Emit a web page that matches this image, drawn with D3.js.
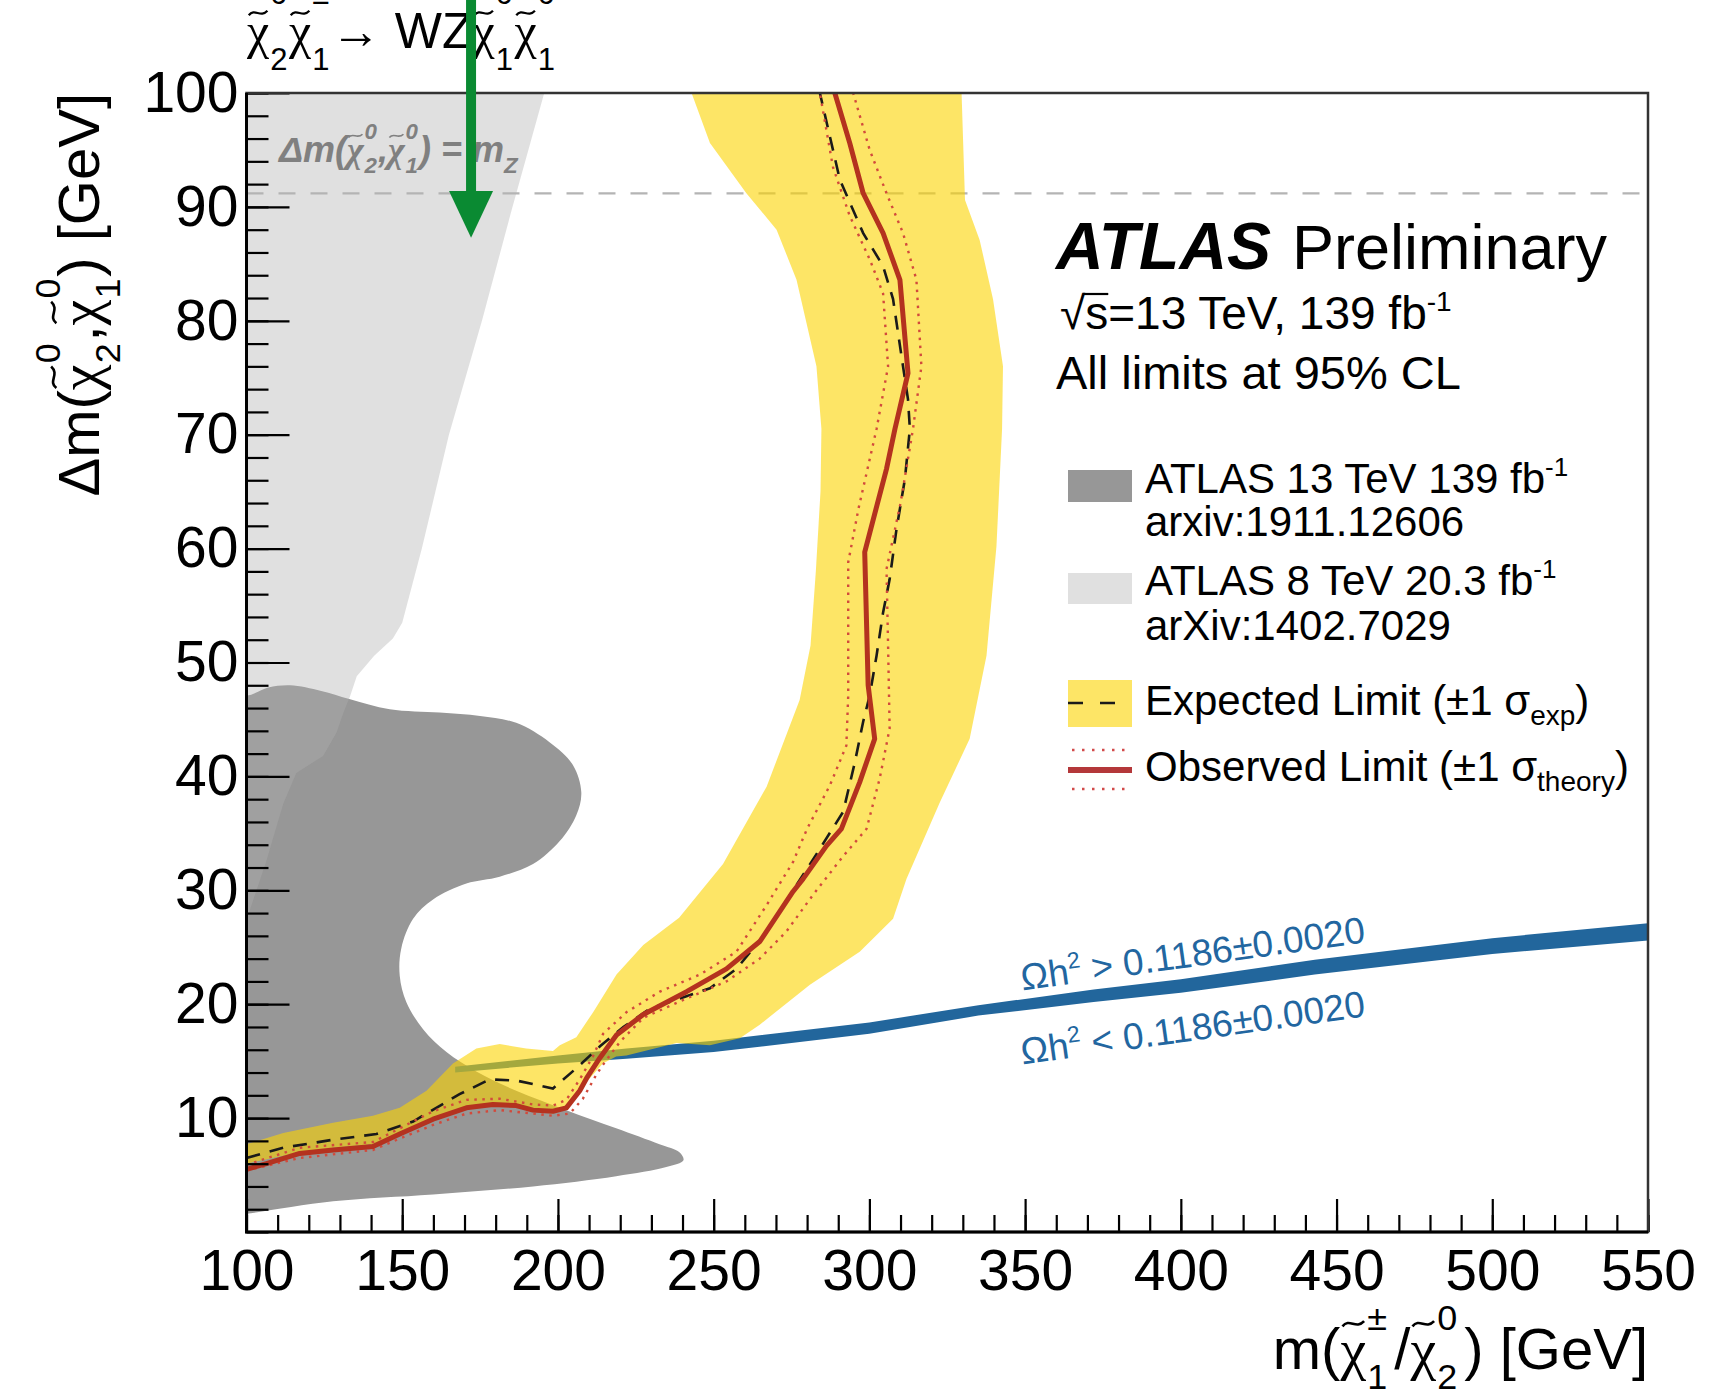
<!DOCTYPE html>
<html>
<head>
<meta charset="utf-8">
<script src="https://cdn.jsdelivr.net/npm/d3@7"></script>
<style>
  html, body { margin: 0; padding: 0; background: #fff; }
  svg { display: block; font-family: "Liberation Sans", Arial, Helvetica, sans-serif; }
</style>
</head>
<body>
<svg id="chart" width="1717" height="1396"></svg>
<script>
// ---- values (x = m(chi1+-/chi2_0), y = delta m, both GeV) ----
const xTickValues = [100, 150, 200, 250, 300, 350, 400, 450, 500, 550]
const yTickValues = [10, 20, 30, 40, 50, 60, 70, 80, 90, 100]
const mZ = 91.19

// ATLAS 13 TeV 139 fb-1 excluded region (arxiv:1911.12606)
const atlas13 = [
  [94, 47.6], [100, 47.1], [107, 47.8], [114, 48.0], [124, 47.5], [133, 46.8], [146, 45.9],
  [162, 45.6], [175, 45.3], [186.6, 44.7], [197.3, 43.0], [204.8, 41.0], [207.5, 38.6],
  [205.9, 36.6], [200.5, 34.3], [192, 32.3], [181.3, 31.2], [170.6, 30.6], [159.9, 29.2],
  [153.5, 27.5], [149.7, 24.9], [149.2, 22.5], [151.3, 20.2], [156.7, 17.8], [164.2, 15.8],
  [173.8, 14.1], [186.6, 12.4], [202.7, 10.7], [218.7, 9.1], [232.6, 7.7], [239, 7.0],
  [240.3, 6.3], [234.8, 5.7], [218.7, 4.9], [192, 4.0], [159.9, 3.3], [127.8, 2.7],
  [100, 1.6], [94, 1.4]
]

// ATLAS 8 TeV 20.3 fb-1 excluded region (arXiv:1402.7029)
const atlas8 = [
  [94, 102], [197, 102], [195.6, 100], [185.4, 90], [175.6, 80], [165, 70], [156.3, 60],
  [150, 53.5], [147, 52.1], [141, 50.6], [135.4, 48.8], [133.2, 47], [131, 45.5],
  [129, 43.9], [124.6, 41.8], [116, 40.3], [111.8, 37.6], [106.4, 32.6], [101, 28.2],
  [100, 27.5], [94, 26]
]

// expected +-1 sigma band: upper/left edge, then lower/right edge
const bandUpper = [
  [96, 7.5], [100, 7.7], [111.8, 8.7], [127.8, 9.6], [140.6, 10.2], [149.2, 10.9],
  [157.8, 12.4], [166.3, 14.8], [173.8, 16.1], [181.3, 16.5], [189.8, 16.1], [198.4, 15.9],
  [200.6, 16.4], [205.9, 17.1], [211.3, 19.3], [218.8, 22.6], [227.4, 25.2], [238.9, 27.6],
  [253, 32.3], [267, 39.1], [277.6, 46.7], [281.1, 51.5], [282.8, 58], [284.3, 65],
  [284.6, 70.5], [283, 76], [276.6, 83.6], [270.2, 88], [260.5, 91.2],
  [248.8, 95.6], [242.9, 100], [242.5, 102]
]
const bandLower = [
  [330, 102], [329.6, 100], [330.7, 90.6], [335.4, 87.1], [339.7, 81.9], [342.9, 76],
  [342.6, 70.5], [340.8, 60.2], [337.6, 50.6], [332.2, 43.3], [322.6, 37.7], [311.9, 31],
  [307.6, 27.5], [296.9, 24.6], [280.9, 21.7], [264.8, 18.2], [258.4, 17], [248.8, 16.4],
  [238.1, 16.6], [222, 15.5], [218.7, 15.4], [214.4, 14.8], [208, 12.8], [202.7, 11.1],
  [198.4, 10.4], [192, 10.6], [186.6, 11.1], [175.9, 11.2], [166.3, 10.7], [157.8, 9.7],
  [149.2, 8.7], [140.6, 7.7], [127.8, 7.4], [111.8, 6.7], [100, 6.0], [96, 5.9]
]

const expected = [
  [100, 6.5], [111.8, 7.4], [127.8, 8.1], [141.7, 8.6], [153.5, 9.7], [168.4, 12.1],
  [178.1, 13.4], [186.6, 13.3], [198.4, 12.6], [206, 14.4], [213.5, 16.3], [221, 18],
  [229.5, 19.6], [238.1, 20.4], [248.8, 21.4], [257.3, 23.1], [266, 26], [276, 30.2],
  [284, 33.6], [291.6, 36.9], [295.3, 41.2], [298, 44.8], [300.1, 47.1], [302.3, 50.6],
  [304.4, 54.4], [306.5, 57.3], [308.7, 61.7], [311.4, 66.1], [313, 70.5], [312.4, 73.1],
  [310.8, 76], [307.6, 81.9], [304.4, 84.8], [298, 87.7], [290.5, 92.4], [284.1, 100]
]

const observed = [
  [100, 5.5], [106.4, 6.0], [117.1, 6.9], [127.8, 7.2], [140.6, 7.5], [149.2, 8.6],
  [159.9, 9.9], [170.6, 10.9], [179.1, 11.2], [186.6, 11.1], [192, 10.7], [198.4, 10.6],
  [202.7, 10.9], [207, 12.4], [209.2, 13.5], [213.5, 15.3], [218.8, 17.3], [227.4, 19.1],
  [241.3, 21.1], [254.1, 23.1], [264.8, 25.5], [275.5, 29.9], [278.7, 31], [286.2, 33.9],
  [291, 35.4], [296.9, 39.5], [301.7, 43.3], [299.6, 48], [298.5, 59.7], [305.5, 67],
  [308.2, 70.5], [312.4, 75.4], [309.8, 83.6], [304.4, 87.7], [298, 91.2], [293.7, 95.6],
  [288.9, 100]
]

const theoryUp = [
  [100, 5.9], [117.1, 7.4], [140.6, 7.9], [149.2, 9.1], [159.9, 10.6], [170.6, 11.6],
  [181.3, 11.7], [192, 11.2], [198.4, 11.1], [202.7, 11.6], [207, 13.4], [211.2, 15.4],
  [214.5, 17.4], [222, 19.3], [232.7, 21.1], [245.6, 22.6], [257.3, 24.6], [267, 28.7],
  [275.5, 32.5], [280, 35.4], [287.3, 39.2], [292.6, 42.7], [293.2, 47.1], [293.2, 58.8],
  [296.5, 63.5], [302.3, 70.5], [306, 76], [304.4, 82.4], [300.1, 85.4], [293.7, 89.2],
  [288.3, 93.5], [284.1, 100]
]

const theoryDown = [
  [100, 5.4], [117.1, 6.5], [140.6, 7.2], [149.2, 8.2], [159.9, 9.4], [170.6, 10.4],
  [181.3, 10.7], [192, 10.4], [198.4, 10.2], [203.8, 10.4], [208, 11.7], [212.3, 13.8],
  [214.5, 14.7], [219.9, 16.7], [227.4, 18.8], [241.3, 20.5], [254.1, 22], [264.8, 24],
  [273.4, 26.4], [281.9, 29.6], [291.6, 33], [299.1, 35.4], [303.3, 39.8], [306.5, 44.2],
  [306, 51.5], [305.5, 58.2], [310, 64], [314, 70.5], [316.7, 76], [315.1, 83.6],
  [310.8, 87.7], [305.5, 91.2], [300.1, 95], [294.8, 100]
]

// relic density band, Omega h^2 = 0.1186 +- 0.0020
const relicX = [167, 200, 222, 250, 300, 335, 372, 400, 443, 500, 550]
const relicLo = [14.0, 14.8, 15.2, 15.8, 17.4, 19.0, 20.2, 21.0, 22.6, 24.4, 25.6]
const relicHi = [14.5, 15.5, 16.1, 16.8, 18.4, 19.9, 21.3, 22.2, 23.9, 25.8, 27.1]

// ---- drawing ----
const W = 1717
const H = 1396
const frame = { left: 246.5, right: 1648, top: 93, bottom: 1232 }

const x = d3.scaleLinear().domain([100, 550]).range([frame.left, frame.right])
const y = d3.scaleLinear().domain([0, 100]).range([frame.bottom, frame.top])

const svg = d3.select('#chart')
svg.append('rect').attr('width', W).attr('height', H).attr('fill', '#fff')

svg.append('defs').append('clipPath').attr('id', 'plot')
  .append('rect')
  .attr('x', frame.left).attr('y', frame.top)
  .attr('width', frame.right - frame.left).attr('height', frame.bottom - frame.top)

const plot = svg.append('g').attr('clip-path', 'url(#plot)')

const line = d3.line().x(d => x(d[0])).y(d => y(d[1]))

plot.append('path')
  .attr('d', line.curve(d3.curveCatmullRomClosed.alpha(0.5))(atlas13))
  .attr('fill', '#979797')

plot.append('path')
  .attr('d', line.curve(d3.curveLinearClosed)(atlas8))
  .attr('fill', '#aeaeae')
  .attr('fill-opacity', 0.385)

const relic = relicX.map((v, i) => ({ x: v, lo: relicLo[i], hi: relicHi[i] }))
plot.append('path')
  .attr('d', d3.area().x(d => x(d.x)).y0(d => y(d.lo)).y1(d => y(d.hi))(relic))
  .attr('fill', '#22669c')

plot.append('line')
  .attr('x1', x(100)).attr('x2', x(550))
  .attr('y1', y(mZ)).attr('y2', y(mZ))
  .attr('stroke', '#b4b4b4').attr('stroke-width', 2.2)
  .attr('stroke-dasharray', '17,15')

plot.append('path')
  .attr('d', line.curve(d3.curveLinearClosed)(bandUpper.concat(bandLower)))
  .attr('fill', '#fcd400')
  .attr('fill-opacity', 0.6)

const open = d3.line().x(d => x(d[0])).y(d => y(d[1])).curve(d3.curveLinear)

plot.append('path').attr('d', open(expected))
  .attr('fill', 'none').attr('stroke', '#1a1a1a').attr('stroke-width', 2.6)
  .attr('stroke-dasharray', '14,10')

for (const th of [theoryUp, theoryDown]) {
  plot.append('path').attr('d', open(th))
    .attr('fill', 'none').attr('stroke', '#d24a3c').attr('stroke-width', 2.4)
    .attr('stroke-dasharray', '2.5,5.5')
}

plot.append('path').attr('d', open(observed))
  .attr('fill', 'none').attr('stroke', '#b4321f').attr('stroke-width', 5)
  .attr('stroke-linejoin', 'round')

/**
 * Lay out a piece of ROOT-like text: plain strings, tilde-chi with stacked
 * super/subscript, plain sub or superscripts. Returns the total width.
 */
function rich (parent, fs, pieces, o) {
  const outer = parent.append('g')
    .attr('transform', `translate(${o.x},${o.y})` + (o.rotate ? ` rotate(${o.rotate})` : ''))
  const color = o.color || '#000'
  outer.attr('fill', color)
  if (o.weight) outer.attr('font-weight', o.weight)
  if (o.style) outer.attr('font-style', o.style)
  const g = outer.append('g')
  const s = fs * (o.supScale || 0.62)
  const gap = o.gap || 0.03
  let cx = 0
  const put = (txt, size, dy, fam) => {
    const t = g.append('text').attr('x', cx).attr('y', dy).attr('font-size', size).text(txt)
    if (fam) t.attr('font-family', fam)
    return t.node().getComputedTextLength()
  }
  for (const p of pieces) {
    if (typeof p === 'string') {
      cx += put(p, fs, 0)
    } else if (p.chi) {
      const w = put('\u03C7', fs, 0, '"Liberation Serif", "Times New Roman", serif')
      const yc = -fs * o.tildeY
      const h = fs * 0.045
      g.append('path')
        .attr('d', `M${cx + 0.08 * w},${yc + h}C${cx + 0.35 * w},${yc - 2.4 * h} ${cx + 0.6 * w},${yc + 2.4 * h} ${cx + 0.92 * w},${yc - h}`)
        .attr('fill', 'none').attr('stroke', color).attr('stroke-width', fs * 0.045)
      const x1 = cx + w + fs * 0.02
      cx = x1
      const ws = put(p.chi[0], s, -fs * o.rise)
      cx = x1
      const wb = put(p.chi[1], s, fs * o.drop)
      cx = x1 + Math.max(ws, wb) + fs * gap
    } else if (p.sub) {
      cx += put(p.sub, s, fs * o.drop)
    } else if (p.sup) {
      cx += put(p.sup, s, -fs * o.rise)
    }
  }
  if (o.anchor === 'end') g.attr('transform', `translate(${-cx},0)`)
  return cx
}

// m_Z label
rich(svg, 36, ['\u0394m(', { chi: ['0', '2'] }, ',', { chi: ['0', '1'] }, ') = m', { sub: 'Z' }],
  { x: x(110.4), y: y(93.9), color: '#808080', weight: 'bold', style: 'italic', tildeY: 0.74, rise: 0.66, drop: 0.3 })

// relic density labels
const relicColor = '#2266a0'
function relicLabel (sign, lx, ly) {
  const t = svg.append('text')
    .attr('transform', `translate(${x(lx)},${y(ly)}) rotate(-8)`)
    .attr('font-size', 37).attr('fill', relicColor)
  t.append('tspan').text('\u03A9h')
  t.append('tspan').attr('font-size', 23).attr('dy', -15).text('2')
  t.append('tspan').attr('dy', 15).text(' ' + sign + ' 0.1186\u00B10.0020')
}
relicLabel('>', 349.2, 21.2)
relicLabel('<', 349.2, 14.7)

// ---- axes ----
const fsTick = 57

const yMinor = d3.axisLeft(y).tickValues(d3.range(0, 101, 2)).tickSize(-22).tickFormat('')
svg.append('g').attr('transform', `translate(${frame.left},0)`).call(yMinor)
  .call(g => g.select('.domain').remove())
  .call(g => g.selectAll('line').attr('stroke', '#000').attr('stroke-width', 2.2))

const yMajor = d3.axisLeft(y).tickValues(yTickValues).tickSize(-43).tickPadding(8).tickFormat(d3.format('d'))
svg.append('g').attr('transform', `translate(${frame.left},0)`).call(yMajor)
  .attr('font-size', fsTick).attr('font-family', null)
  .call(g => g.select('.domain').remove())
  .call(g => g.selectAll('line').attr('stroke', '#000').attr('stroke-width', 2.2))
  .call(g => g.selectAll('text').attr('fill', '#000'))

const xMinor = d3.axisBottom(x).tickValues(d3.range(100, 551, 10)).tickSize(-17).tickFormat('')
svg.append('g').attr('transform', `translate(0,${frame.bottom})`).call(xMinor)
  .call(g => g.select('.domain').remove())
  .call(g => g.selectAll('line').attr('stroke', '#000').attr('stroke-width', 2.2))

const xMajor = d3.axisBottom(x).tickValues(xTickValues).tickSize(-33).tickPadding(18).tickFormat(d3.format('d'))
svg.append('g').attr('transform', `translate(0,${frame.bottom})`).call(xMajor)
  .attr('font-size', fsTick).attr('font-family', null)
  .call(g => g.select('.domain').remove())
  .call(g => g.selectAll('line').attr('stroke', '#000').attr('stroke-width', 2.2))
  .call(g => g.selectAll('text').attr('fill', '#000'))

// frame
svg.append('rect')
  .attr('x', frame.left).attr('y', frame.top)
  .attr('width', frame.right - frame.left).attr('height', frame.bottom - frame.top)
  .attr('fill', 'none').attr('stroke', '#333').attr('stroke-width', 2.5)
svg.append('path')
  .attr('d', `M${frame.left},${frame.top}V${frame.bottom}H${frame.right}`)
  .attr('fill', 'none').attr('stroke', '#000').attr('stroke-width', 3)

// axis titles
const fsTitle = 58
rich(svg, fsTitle, ['m(', { chi: ['\u00B1', '1'] }, '/', { chi: ['0', '2'] }, ') [GeV]'],
  { x: frame.right, y: 1369, anchor: 'end', tildeY: 0.78, rise: 0.68, drop: 0.34, gap: 0.12 })

rich(svg, fsTitle, ['\u0394m(', { chi: ['0', '2'] }, ',', { chi: ['0', '1'] }, ') [GeV]'],
  { x: 99, y: frame.top, rotate: -90, anchor: 'end', tildeY: 0.78, rise: 0.68, drop: 0.36 })

// process title at the top (partly cut by the page edge)
rich(svg, 50, [{ chi: ['0', '2'] }, { chi: ['\u00B1', '1'] }, ' \u2192 WZ', { chi: ['0', '1'] }, { chi: ['0', '1'] }],
  { x: 247, y: 48, tildeY: 0.7, rise: 0.88, drop: 0.44 })

// ATLAS label
svg.append('text').attr('x', 1056).attr('y', 269).attr('font-size', 66)
  .attr('font-weight', 'bold').attr('font-style', 'italic').text('ATLAS')
svg.append('text').attr('x', 1292).attr('y', 269).attr('font-size', 63).text('Preliminary')

const ecm = svg.append('text').attr('x', 1060).attr('y', 329).attr('font-size', 46)
ecm.append('tspan').text('\u221As=13 TeV, 139 fb')
ecm.append('tspan').attr('font-size', 28).attr('dy', -18).text('-1')
{
  const n = ecm.select('tspan').node()
  const a = n.getSubStringLength(0, 1)
  const b = n.getSubStringLength(1, 1)
  svg.append('line')
    .attr('x1', 1060 + a - 2).attr('x2', 1060 + a + b)
    .attr('y1', 329 - 35).attr('y2', 329 - 35)
    .attr('stroke', '#000').attr('stroke-width', 2.2)
}

svg.append('text').attr('x', 1056).attr('y', 389).attr('font-size', 47)
  .text('All limits at 95% CL')

// legend
const fsLeg = 42
const lgX = 1068
const lgTextX = 1145
svg.append('rect').attr('x', lgX).attr('y', 470).attr('width', 64).attr('height', 32).attr('fill', '#979797')
svg.append('rect').attr('x', lgX).attr('y', 573).attr('width', 64).attr('height', 31).attr('fill', '#e0e0e0')
svg.append('rect').attr('x', lgX).attr('y', 680).attr('width', 64).attr('height', 47)
  .attr('fill', '#fcd400').attr('fill-opacity', 0.6)
svg.append('line').attr('x1', lgX).attr('x2', lgX + 64).attr('y1', 703).attr('y2', 703)
  .attr('stroke', '#1a1a1a').attr('stroke-width', 2.6).attr('stroke-dasharray', '15,17')
svg.append('line').attr('x1', lgX).attr('x2', lgX + 64).attr('y1', 770).attr('y2', 770)
  .attr('stroke', '#b4383a').attr('stroke-width', 6)
for (const ly of [750, 789]) {
  svg.append('line').attr('x1', lgX + 4).attr('x2', lgX + 64).attr('y1', ly).attr('y2', ly)
    .attr('stroke', '#d24a4a').attr('stroke-width', 2.4).attr('stroke-dasharray', '2.5,7.5')
}

function legText (yy, main, sup) {
  const t = svg.append('text').attr('x', lgTextX).attr('y', yy).attr('font-size', fsLeg)
  t.append('tspan').text(main)
  if (sup) t.append('tspan').attr('font-size', 26).attr('dy', -17).text(sup)
  return t
}
legText(493, 'ATLAS 13 TeV 139 fb', '-1')
legText(536, 'arxiv:1911.12606')
legText(595, 'ATLAS 8 TeV 20.3 fb', '-1')
legText(640, 'arXiv:1402.7029')
{
  const t = legText(715, 'Expected Limit (\u00B11 \u03C3')
  t.append('tspan').attr('font-size', 28).attr('dy', 10).text('exp')
  t.append('tspan').attr('dy', -10).text(')')
}
{
  const t = legText(781, 'Observed Limit (\u00B11 \u03C3')
  t.append('tspan').attr('font-size', 28).attr('dy', 10).text('theory')
  t.append('tspan').attr('dy', -10).text(')')
}

// green arrow annotation
const arrowX = 172.1
svg.append('line')
  .attr('x1', x(arrowX)).attr('x2', x(arrowX))
  .attr('y1', 0).attr('y2', y(91.0))
  .attr('stroke', '#0a8a32').attr('stroke-width', 10)
svg.append('path')
  .attr('d', `M${x(arrowX) - 22},${y(91.4)}L${x(arrowX) + 22},${y(91.4)}L${x(arrowX)},${y(87.3)}Z`)
  .attr('fill', '#0a8a32')
</script>
</body>
</html>
